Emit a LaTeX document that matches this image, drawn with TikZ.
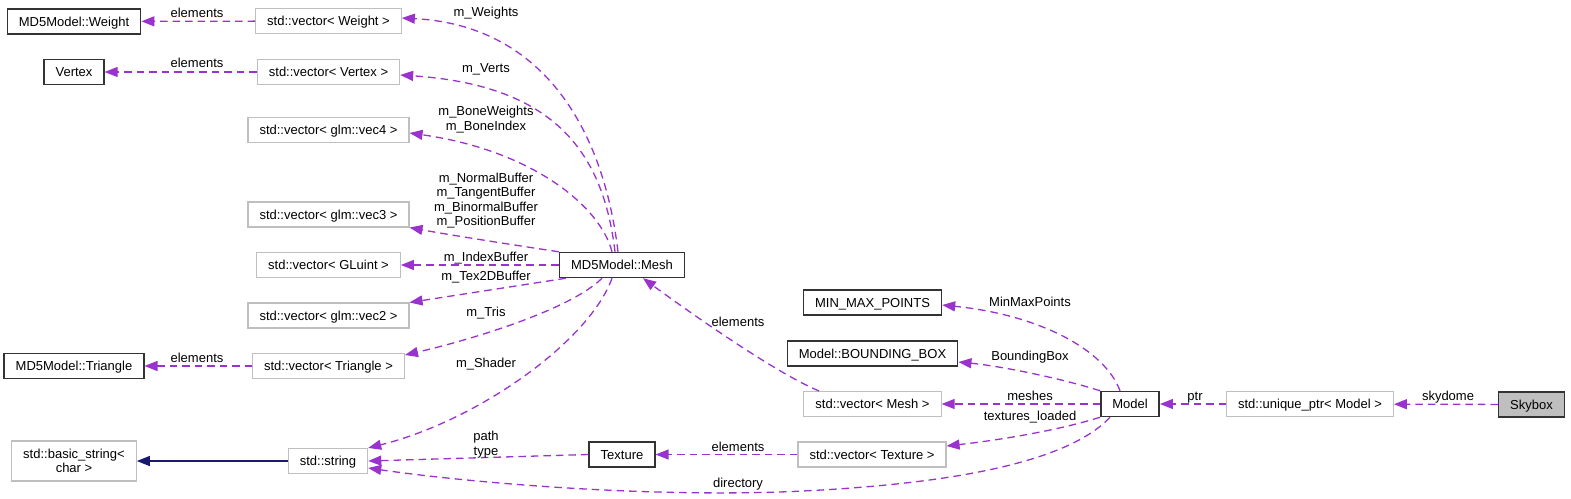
\documentclass[tikz,border=0pt]{standalone}
\usepackage{fontspec}
\setmainfont{Liberation Sans}
\usetikzlibrary{arrows.meta}
\definecolor{EdgePurple}{HTML}{9A32CD}
\definecolor{EdgeNavy}{HTML}{191970}
\definecolor{BoxGray}{HTML}{BFBFBF}

\begin{document}
\begin{tikzpicture}[x=1pt, y=-1pt,
    every node/.style={font=\fontsize{13}{14.3}\selectfont},
    base/.style={inner xsep=11.5pt, inner ysep=0pt, minimum height=25pt},
    cls/.style={base, draw=black!80, line width=1.5pt, text height=9.3pt, text depth=0pt},
    ext/.style={base, draw=BoxGray, line width=1.1pt, text height=9.3pt, text depth=0pt},
    cur/.style={cls, fill=BoxGray},
    dep/.style={draw=EdgePurple, line width=1.3pt, dash pattern=on 7.5pt off 5pt, -{Triangle[length=13pt, width=10pt]}},
    inh/.style={draw=EdgeNavy, line width=1.3pt, -{Triangle[length=13pt, width=10pt]}},
    lbl/.style={inner sep=0pt, text height=9.3pt, text depth=0pt},
    lbls/.style={inner sep=0pt, align=center}]
    \useasboundingbox (0,0) rectangle (1571,498);

    % left column
    \node[cls] (weight) at (74,21.5) {MD5Model::Weight};
    \node[cls] (vertex) at (74,72) {Vertex};
    \node[cls] (tri) at (74,366) {MD5Model::Triangle};
    \node[base, draw=BoxGray, line width=1.1pt, align=center, minimum height=40pt] (bstr) at (74,461) {std::basic\_string<\\char >};

    % containers
    \node[ext] (vweight) at (328.5,21) {std::vector< Weight >};
    \node[ext] (vvertex) at (328.5,72) {std::vector< Vertex >};
    \node[ext] (vvec4) at (328.5,130) {std::vector< glm::vec4 >};
    \node[ext] (vvec3) at (328.5,214.5) {std::vector< glm::vec3 >};
    \node[ext] (vgluint) at (328.5,265) {std::vector< GLuint >};
    \node[ext] (vvec2) at (328.5,315.5) {std::vector< glm::vec2 >};
    \node[ext] (vtri) at (328.5,366) {std::vector< Triangle >};
    \node[ext] (vstr) at (328,461) {std::string};

    \node[cls] (mesh) at (622,265) {MD5Model::Mesh};
    \node[cls] (texture) at (622,454.5) {Texture};

    \node[cls] (mmp) at (872.5,302.5) {MIN\_MAX\_POINTS};
    \node[cls] (bbox) at (872.5,353.5) {Model::BOUNDING\_BOX};
    \node[ext] (vmesh) at (872.5,404) {std::vector< Mesh >};
    \node[ext] (vtex) at (872,454.5) {std::vector< Texture >};

    \node[cls] (model) at (1130,404) {Model};
    \node[ext] (uptr) at (1310,404) {std::unique\_ptr< Model >};
    \node[cur] (skybox) at (1531.5,404.5) {Skybox};

    % connectors
    \draw[dep] (vweight) -- (weight);
    \draw[dep] (vvertex) -- (vertex);
    \draw[dep] (vtri) -- (tri);
    \draw[inh] (vstr) -- (bstr);
    \draw[dep] ([xshift=-4pt]mesh.north) .. controls (603,125) and (540,25) .. ([yshift=3pt]vweight.east);
    \draw[dep] ([xshift=-7pt]mesh.north) .. controls (603,150) and (552,85) .. ([yshift=-3pt]vvertex.east);
    \draw[dep] ([xshift=-10pt]mesh.north) .. controls (600,205) and (530,150) .. ([yshift=-3pt]vvec4.east);
    \draw[dep] (mesh.north west) .. controls (520,246) and (450,235) .. (vvec3.south east);
    \draw[dep] (mesh.west) -- (vgluint.east);
    \draw[dep] ([xshift=7pt]mesh.south west) -- (vvec2.north east);
    \draw[dep] ([xshift=-20pt]mesh.south) .. controls (570,310) and (470,340) .. ([yshift=11pt]vtri.east);
    \draw[dep] ([xshift=-10pt]mesh.south) .. controls (590,340) and (480,420) .. (vstr.north east);
    \draw[dep] (texture.west) -- (vstr.east);
    \draw[dep] ([xshift=-20pt]model.south) .. controls (1070,460) and (960,485) .. (780,492)
        .. controls (620,497) and (450,480) .. ([yshift=-7pt]vstr.east);
    \draw[dep] (vtex) -- (texture);
    \draw[dep] ([xshift=-53.5pt]vmesh.north) .. controls (780,375) and (700,320) .. ([xshift=21pt]mesh.south);
    \draw[dep] ([xshift=-10pt]model.north) .. controls (1105,350) and (1040,315) .. ([yshift=-2.5pt]mmp.east);
    \draw[dep] (model.north west) .. controls (1060,378) and (1000,366) .. ([yshift=-8.5pt]bbox.east);
    \draw[dep] (model) -- (vmesh);
    \draw[dep] (model.south west) .. controls (1060,430) and (1000,440) .. ([yshift=8.5pt]vtex.east);
    \draw[dep] (uptr) -- (model);
    \draw[dep] (skybox) -- (uptr);

    % labels
    \node[lbl] (lElemW) at (197,13) {elements};
    \node[lbl] (lElemV) at (197,63) {elements};
    \node[lbl] (lElemT) at (197,358) {elements};
    \node[lbl] (lWeights) at (486,12) {m\_Weights};
    \node[lbl] (lVerts) at (486,68) {m\_Verts};
    \node[lbls] (lBone) at (486,119.5) {m\_BoneWeights\\m\_BoneIndex};
    \node[lbls] (lBuf) at (486,200.5) {m\_NormalBuffer\\m\_TangentBuffer\\m\_BinormalBuffer\\m\_PositionBuffer};
    \node[lbl] (lIndex) at (486,257) {m\_IndexBuffer};
    \node[lbl] (lTex2D) at (486,276) {m\_Tex2DBuffer};
    \node[lbl] (lTris) at (486,312) {m\_Tris};
    \node[lbl] (lShader) at (486,363) {m\_Shader};
    \node[lbls] (lPath) at (486,444.5) {path\\type};
    \node[lbl] (lElemMesh) at (738,322) {elements};
    \node[lbl] (lElemTex) at (738,447) {elements};
    \node[lbl] (lDir) at (738,483) {directory};
    \node[lbl] (lMinMax) at (1030,302) {MinMaxPoints};
    \node[lbl] (lBBox) at (1030,356) {BoundingBox};
    \node[lbl] (lMeshes) at (1030,396) {meshes};
    \node[lbl] (lTexLoaded) at (1030,416) {textures\_loaded};
    \node[lbl] (lPtr) at (1195,396) {ptr};
    \node[lbl] (lSky) at (1448,396) {skydome};
\end{tikzpicture}
\end{document}
